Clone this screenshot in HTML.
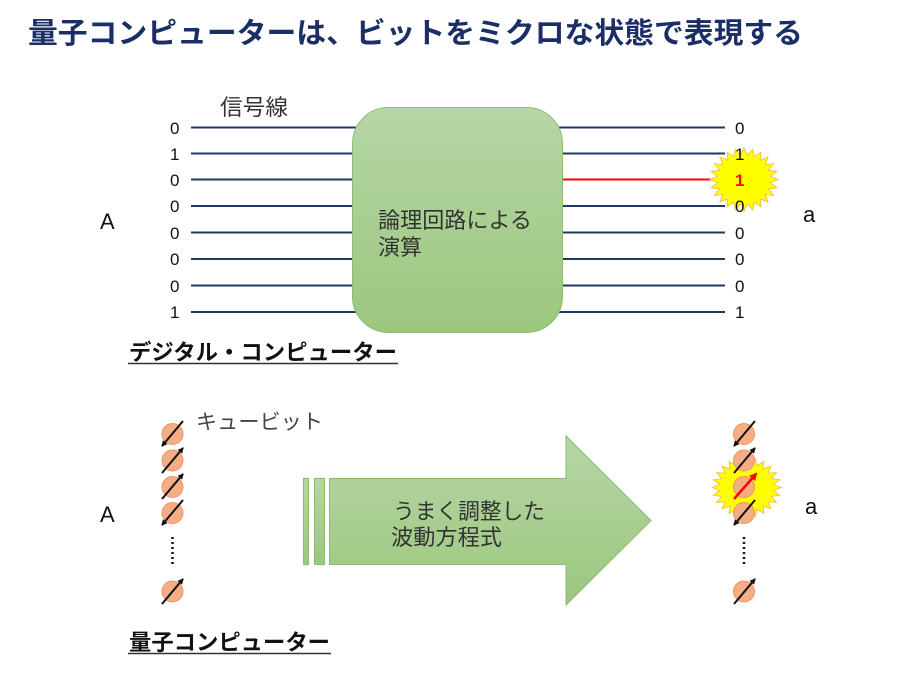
<!DOCTYPE html>
<html><head><meta charset="utf-8"><style>
html,body{margin:0;padding:0;background:#fff;}
svg{display:block;}
text{font-family:"Liberation Sans","Noto Sans CJK JP",sans-serif;}
.jp{font-family:"Liberation Sans","Noto Sans CJK JP",sans-serif;fill:#333;}
.d{font-size:17px;fill:#111;}
</style></head><body>
<svg width="900" height="675" viewBox="0 0 900 675" xmlns="http://www.w3.org/2000/svg">
<defs>
<linearGradient id="g" x1="0" y1="0" x2="0" y2="1">
<stop offset="0" stop-color="#B6D6A6"/><stop offset="1" stop-color="#9BC77D"/>
</linearGradient>
<marker id="ah" markerWidth="6" markerHeight="6" refX="5" refY="3" orient="auto" markerUnits="userSpaceOnUse">
<path d="M0,0 L6,3 L0,6 z" fill="#111"/>
</marker>
<marker id="ahr" markerWidth="8" markerHeight="8" refX="6" refY="4" orient="auto" markerUnits="userSpaceOnUse">
<path d="M0,0 L8,4 L0,8 z" fill="#f00"/>
</marker>
</defs>

<!-- title -->
<text x="28" y="43" font-size="29" font-weight="bold" fill="#1B2F66" textLength="775" lengthAdjust="spacingAndGlyphs">量子コンピューターは、ビットをミクロな状態で表現する</text>

<!-- digital section -->
<text class="jp" x="220" y="115" font-size="22" textLength="68" lengthAdjust="spacingAndGlyphs">信号線</text>
<g stroke="#1F3864" stroke-width="2">
<line x1="191" y1="127.5" x2="360" y2="127.5"/>
<line x1="191" y1="153.5" x2="360" y2="153.5"/>
<line x1="191" y1="179.5" x2="360" y2="179.5"/>
<line x1="191" y1="206" x2="360" y2="206"/>
<line x1="191" y1="232.5" x2="360" y2="232.5"/>
<line x1="191" y1="259" x2="360" y2="259"/>
<line x1="191" y1="285.5" x2="360" y2="285.5"/>
<line x1="191" y1="312" x2="360" y2="312"/>
<line x1="555" y1="127.5" x2="725" y2="127.5"/>
<line x1="555" y1="153.5" x2="725" y2="153.5"/>
<line x1="555" y1="206" x2="725" y2="206"/>
<line x1="555" y1="232.5" x2="725" y2="232.5"/>
<line x1="555" y1="259" x2="725" y2="259"/>
<line x1="555" y1="285.5" x2="725" y2="285.5"/>
<line x1="555" y1="312" x2="725" y2="312"/>
</g>
<line x1="555" y1="179.5" x2="725" y2="179.5" stroke="#FF0000" stroke-width="2"/>
<rect x="352.5" y="107.5" width="210" height="225" rx="36" fill="url(#g)" stroke="#8DBB70" stroke-width="1"/>
<text class="jp" x="378" y="228" font-size="22" textLength="154" lengthAdjust="spacingAndGlyphs">論理回路による</text>
<text class="jp" x="378" y="255" font-size="22" textLength="44" lengthAdjust="spacingAndGlyphs">演算</text>

<g class="d">
<text class="d" x="170" y="134">0</text>
<text class="d" x="170" y="160">1</text>
<text class="d" x="170" y="186">0</text>
<text class="d" x="170" y="212">0</text>
<text class="d" x="170" y="239">0</text>
<text class="d" x="170" y="265">0</text>
<text class="d" x="170" y="292">0</text>
<text class="d" x="170" y="318">1</text>
</g>

<polygon transform="translate(744,179.5) scale(34,31.5)" fill="#FFFF00" stroke="#F5C242" stroke-width="0.03" points="0,-1 0.1018,-0.7733 0.2588,-0.9659 0.2985,-0.7206 0.5,-0.866 0.4749,-0.6189 0.7071,-0.7071 0.6189,-0.4749 0.866,-0.5 0.7206,-0.2985 0.9659,-0.2588 0.7733,-0.1018 1,0 0.7733,0.1018 0.9659,0.2588 0.7206,0.2985 0.866,0.5 0.6189,0.4749 0.7071,0.7071 0.4749,0.6189 0.5,0.866 0.2985,0.7206 0.2588,0.9659 0.1018,0.7733 0,1 -0.1018,0.7733 -0.2588,0.9659 -0.2985,0.7206 -0.5,0.866 -0.4749,0.6189 -0.7071,0.7071 -0.6189,0.4749 -0.866,0.5 -0.7206,0.2985 -0.9659,0.2588 -0.7733,0.1018 -1,0 -0.7733,-0.1018 -0.9659,-0.2588 -0.7206,-0.2985 -0.866,-0.5 -0.6189,-0.4749 -0.7071,-0.7071 -0.4749,-0.6189 -0.5,-0.866 -0.2985,-0.7206 -0.2588,-0.9659 -0.1018,-0.7733"/>

<g>
<text class="d" x="735" y="134">0</text>
<text class="d" x="735" y="160">1</text>
<text class="d" x="735" y="186" fill="#FF0000" style="fill:#FF0000;font-weight:bold">1</text>
<text class="d" x="735" y="212">0</text>
<text class="d" x="735" y="239">0</text>
<text class="d" x="735" y="265">0</text>
<text class="d" x="735" y="292">0</text>
<text class="d" x="735" y="318">1</text>
</g>

<text x="100" y="229" font-size="22" fill="#111">A</text>
<text x="803" y="222" font-size="22" fill="#111">a</text>

<text x="129" y="360" font-size="22" font-weight="bold" fill="#111" textLength="268" lengthAdjust="spacingAndGlyphs">デジタル・コンピューター</text>
<line x1="128" y1="363.5" x2="398" y2="363.5" stroke="#333" stroke-width="1.5"/>

<!-- quantum section -->
<text class="jp" x="196" y="429" font-size="21" fill="#444" style="fill:#444" textLength="127" lengthAdjust="spacingAndGlyphs">キュービット</text>

<!-- left qubits -->
<g fill="#F4AD85" stroke="#F0955F" stroke-width="1">
<circle cx="172.5" cy="434" r="10.5"/>
<circle cx="172.5" cy="460.5" r="10.5"/>
<circle cx="172.5" cy="487" r="10.5"/>
<circle cx="172.5" cy="513" r="10.5"/>
<circle cx="172.5" cy="591.5" r="10.5"/>
</g>
<g stroke="#111" stroke-width="2">
<line x1="183" y1="421" x2="162" y2="446" marker-end="url(#ah)"/>
<line x1="162" y1="473" x2="183" y2="448" marker-end="url(#ah)"/>
<line x1="162" y1="499" x2="183" y2="474" marker-end="url(#ah)"/>
<line x1="183" y1="500" x2="162" y2="525" marker-end="url(#ah)"/>
<line x1="162" y1="604" x2="183" y2="579" marker-end="url(#ah)"/>
</g>
<line x1="172.5" y1="537" x2="172.5" y2="564" stroke="#111" stroke-width="2.5" stroke-dasharray="2,3"/>

<text x="100" y="522" font-size="22" fill="#111">A</text>

<!-- big arrow -->
<rect x="303.5" y="478.5" width="5" height="86" fill="url(#g)" stroke="#8DBB70" stroke-width="1"/>
<rect x="314.5" y="478.5" width="10" height="86" fill="url(#g)" stroke="#8DBB70" stroke-width="1"/>
<polygon points="329.5,478.5 566,478.5 566,436 651,520.5 566,605 566,564.5 329.5,564.5" fill="url(#g)" stroke="#8DBB70" stroke-width="1"/>
<text class="jp" x="393" y="519" font-size="22" textLength="152" lengthAdjust="spacingAndGlyphs">うまく調整した</text>
<text class="jp" x="391" y="545" font-size="22" textLength="111" lengthAdjust="spacingAndGlyphs">波動方程式</text>

<!-- right qubits -->
<polygon transform="translate(746.5,487.5) scale(34.5,30)" fill="#FFFF00" stroke="#F5C242" stroke-width="0.03" points="0,-1 0.1018,-0.7733 0.2588,-0.9659 0.2985,-0.7206 0.5,-0.866 0.4749,-0.6189 0.7071,-0.7071 0.6189,-0.4749 0.866,-0.5 0.7206,-0.2985 0.9659,-0.2588 0.7733,-0.1018 1,0 0.7733,0.1018 0.9659,0.2588 0.7206,0.2985 0.866,0.5 0.6189,0.4749 0.7071,0.7071 0.4749,0.6189 0.5,0.866 0.2985,0.7206 0.2588,0.9659 0.1018,0.7733 0,1 -0.1018,0.7733 -0.2588,0.9659 -0.2985,0.7206 -0.5,0.866 -0.4749,0.6189 -0.7071,0.7071 -0.6189,0.4749 -0.866,0.5 -0.7206,0.2985 -0.9659,0.2588 -0.7733,0.1018 -1,0 -0.7733,-0.1018 -0.9659,-0.2588 -0.7206,-0.2985 -0.866,-0.5 -0.6189,-0.4749 -0.7071,-0.7071 -0.4749,-0.6189 -0.5,-0.866 -0.2985,-0.7206 -0.2588,-0.9659 -0.1018,-0.7733"/>
<g fill="#F4AD85" stroke="#F0955F" stroke-width="1">
<circle cx="744" cy="434" r="10.5"/>
<circle cx="744" cy="460.5" r="10.5"/>
<circle cx="744" cy="487" r="10.5"/>
<circle cx="744" cy="513" r="10.5"/>
<circle cx="744" cy="591.5" r="10.5"/>
</g>
<g stroke="#111" stroke-width="2">
<line x1="755" y1="421" x2="734" y2="446" marker-end="url(#ah)"/>
<line x1="734" y1="473" x2="755" y2="448" marker-end="url(#ah)"/>
<line x1="755" y1="500" x2="734" y2="525" marker-end="url(#ah)"/>
<line x1="734" y1="604" x2="755" y2="579" marker-end="url(#ah)"/>
</g>
<line x1="734" y1="499" x2="756" y2="474" stroke="#FF0000" stroke-width="2.5" marker-end="url(#ahr)"/>
<line x1="744" y1="537" x2="744" y2="564" stroke="#111" stroke-width="2.5" stroke-dasharray="2,3"/>

<text x="805" y="514" font-size="22" fill="#111">a</text>

<text x="129" y="650" font-size="22" font-weight="bold" fill="#111" textLength="201" lengthAdjust="spacingAndGlyphs">量子コンピューター</text>
<line x1="128" y1="653.5" x2="331" y2="653.5" stroke="#333" stroke-width="1.5"/>
</svg>
</body></html>
